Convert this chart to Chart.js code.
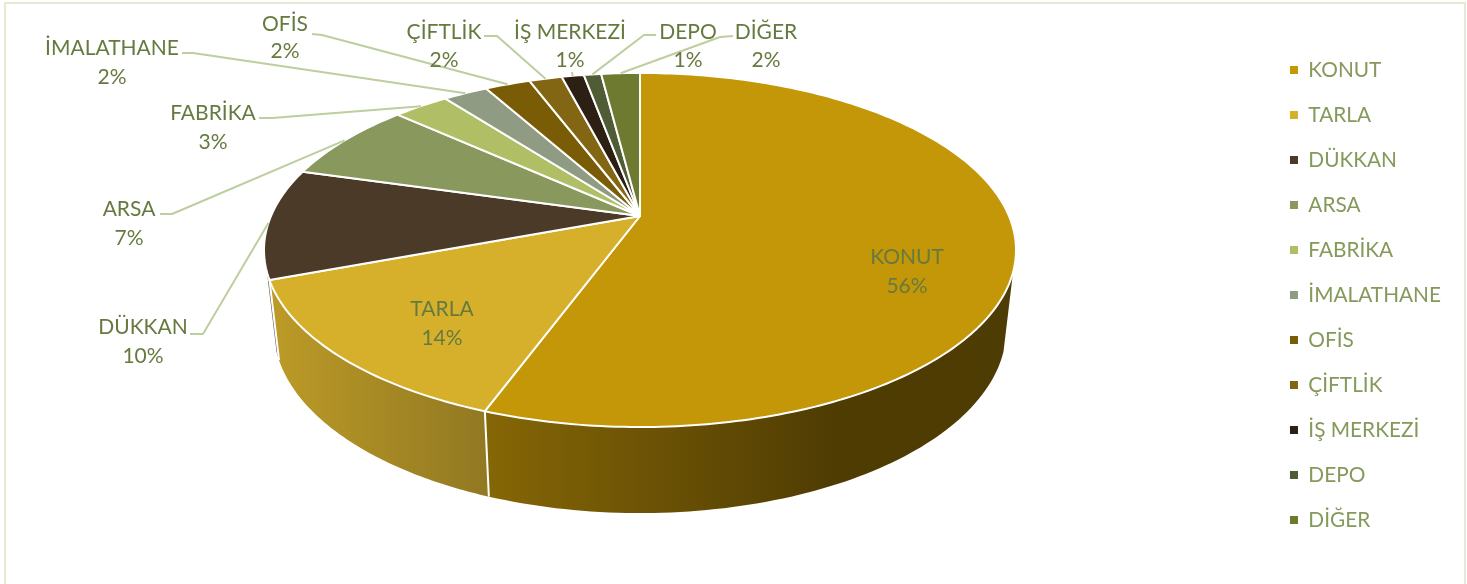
<!DOCTYPE html>
<html>
<head>
<meta charset="utf-8">
<style>
html,body{margin:0;padding:0;background:#fff;overflow:hidden}
#wrap{position:absolute;left:0;top:0;width:1467px;height:584px}
</style>
<script src="https://cdn.jsdelivr.net/npm/chart.js@4"></script>
</head>
<body>
<div id="wrap"><canvas id="c" width="1467" height="584"></canvas></div>
<script>
const categories = ["KONUT","TARLA","DÜKKAN","ARSA","FABRİKA","İMALATHANE","OFİS","ÇİFTLİK","İŞ MERKEZİ","DEPO","DİĞER"];
const shares = [55.6,13.7,10.1,7.3,2.9,2.3,2.35,1.7,1.15,0.9,2.0];
const sliceColors = ["#C39708","#D6B02A","#4C3A28","#89985C","#B0BF65","#8F9B82","#795C05","#836614","#2C2015","#505C36","#6D7A30"];
// wall shading per slice (only the front-facing slices have a visible wall)
const wallStops = [
  [[0,"#866706"],[0.66,"#4F3C03"],[1,"#4D3C03"]],
  [[0,"#BD9B27"],[1,"#917822"]],
  [[0,"#5E4F42"],[1,"#5E4F42"]]
];
// label layout: centre x, first line y, second line y, leader polyline start points (or null)
const labelSpots = [
  {x:907,y1:257,y2:286,lead:null},
  {x:442,y1:309,y2:338,lead:null},
  {x:143,y1:327,y2:356,lead:[[190,334],[203,334]]},
  {x:129,y1:209,y2:238,lead:[[160,214],[172,214]]},
  {x:213,y1:113,y2:142,lead:[[259,118],[272,118]]},
  {x:112,y1:48,y2:77,lead:[[182,53],[193,53]]},
  {x:285,y1:24,y2:51,lead:[[312,34],[322,35]]},
  {x:444,y1:32,y2:60,lead:[[484,36],[497,36]]},
  {x:570,y1:32,y2:60,lead:[[572,72]]},
  {x:688,y1:32,y2:60,lead:[[656,35],[644,35]]},
  {x:766,y1:32,y2:60,lead:[[733,36],[720,37]]}
];
const FONT = "Lato, Carlito, 'Open Sans', sans-serif";

// perspective mapping of the pie's flat disc (unit circle) on to the page
const persp = {cx:640, k:0.192, top:{a:369,b:170.5,oy:216}, low:{a:359.5,b:177.4,oy:293.5}};
const wallFrom = 108*Math.PI/180, wallTo = 252*Math.PI/180;
function rim(t, ring){
  const u=Math.sin(t), v=Math.cos(t), w=1+persp.k*v;
  return [persp.cx+ring.a*u/w, ring.oy-ring.b*v/w];
}
const pie3d = {
  id:'pie3d',
  beforeDraw(chart){
    const c=chart.ctx;
    c.save();
    c.fillStyle='#fff'; c.fillRect(0,0,1467,584);
    c.strokeStyle='#E3EBD3'; c.lineWidth=2;
    c.beginPath(); c.moveTo(5,590); c.lineTo(5,3); c.lineTo(1465,3); c.lineTo(1465,590); c.stroke();
    c.restore();
  },
  beforeDatasetsDraw(chart){
    const c=chart.ctx, arcs=chart.getDatasetMeta(0).data;
    const total=shares.reduce((s,v)=>s+v,0);
    const range=a=>{const p=a.getProps(['startAngle','endAngle'],true);return [p.startAngle+Math.PI/2,p.endAngle+Math.PI/2];};
    c.save();
    c.lineJoin='round';
    // walls
    const seams=[];
    arcs.forEach((a,i)=>{
      const [s,e]=range(a);
      const t0=Math.max(s,wallFrom), t1=Math.min(e,wallTo);
      if(t1<=t0||!wallStops[i]) return;
      const N=80, up=[], lo=[];
      for(let j=0;j<=N;j++){const t=t0+(t1-t0)*j/N; up.push(rim(t,persp.top)); lo.push(rim(t,persp.low));}
      const all=up.concat(lo.slice().reverse());
      const xs=all.map(p=>p[0]);
      const g=c.createLinearGradient(Math.min(...xs),0,Math.max(...xs),0);
      wallStops[i].forEach(st=>g.addColorStop(st[0],st[1]));
      c.fillStyle=g;
      c.beginPath(); all.forEach((p,j)=>j?c.lineTo(p[0],p[1]):c.moveTo(p[0],p[1])); c.closePath(); c.fill();
      if(e<=wallTo) seams.push(e);
    });
    c.strokeStyle='#fff'; c.lineWidth=2;
    seams.forEach(e=>{
      const p=rim(e,persp.top), q=rim(e,persp.low);
      c.beginPath(); c.moveTo(p[0],p[1]); c.lineTo(q[0],q[1]); c.stroke();
    });
    // top faces
    arcs.forEach((a,i)=>{
      const [s,e]=range(a);
      c.fillStyle=sliceColors[i];
      c.beginPath(); c.moveTo(persp.cx,persp.top.oy);
      const N=Math.max(8,Math.ceil((e-s)*60));
      for(let j=0;j<=N;j++){const p=rim(s+(e-s)*j/N,persp.top); c.lineTo(p[0],p[1]);}
      c.closePath(); c.fill();
      c.strokeStyle='#fff'; c.lineWidth=2; c.stroke();
    });
    // leader lines
    c.strokeStyle='#BDCE9F'; c.lineWidth=2;
    arcs.forEach((a,i)=>{
      const sp=labelSpots[i]; if(!sp.lead) return;
      const [s,e]=range(a);
      const end=rim((s+e)/2,persp.top);
      c.beginPath();
      sp.lead.forEach((p,j)=>j?c.lineTo(p[0],p[1]):c.moveTo(p[0],p[1]));
      c.lineTo(end[0],end[1]); c.stroke();
    });
    // labels
    c.fillStyle='#667A40'; c.textAlign='center'; c.textBaseline='middle';
    c.font='21px '+FONT;
    arcs.forEach((a,i)=>{
      const sp=labelSpots[i];
      c.fillText(categories[i],sp.x,sp.y1);
      c.fillText(Math.round(shares[i]/total*100)+'%',sp.x,sp.y2);
    });
    c.restore();
    return false;
  }
};
new Chart(document.getElementById('c'),{
  type:'pie',
  data:{labels:categories,datasets:[{data:shares,backgroundColor:sliceColors,borderWidth:0}]},
  options:{
    responsive:false,animation:false,
    layout:{padding:{right:16,top:6}},
    plugins:{
      tooltip:{enabled:false},
      legend:{
        position:'right',
        labels:{usePointStyle:true,pointStyle:'rect',boxWidth:8,boxHeight:8,padding:24.2,color:'#84995A',font:{family:FONT,size:20.8}}
      }
    }
  },
  plugins:[pie3d]
});
</script>
</body>
</html>
